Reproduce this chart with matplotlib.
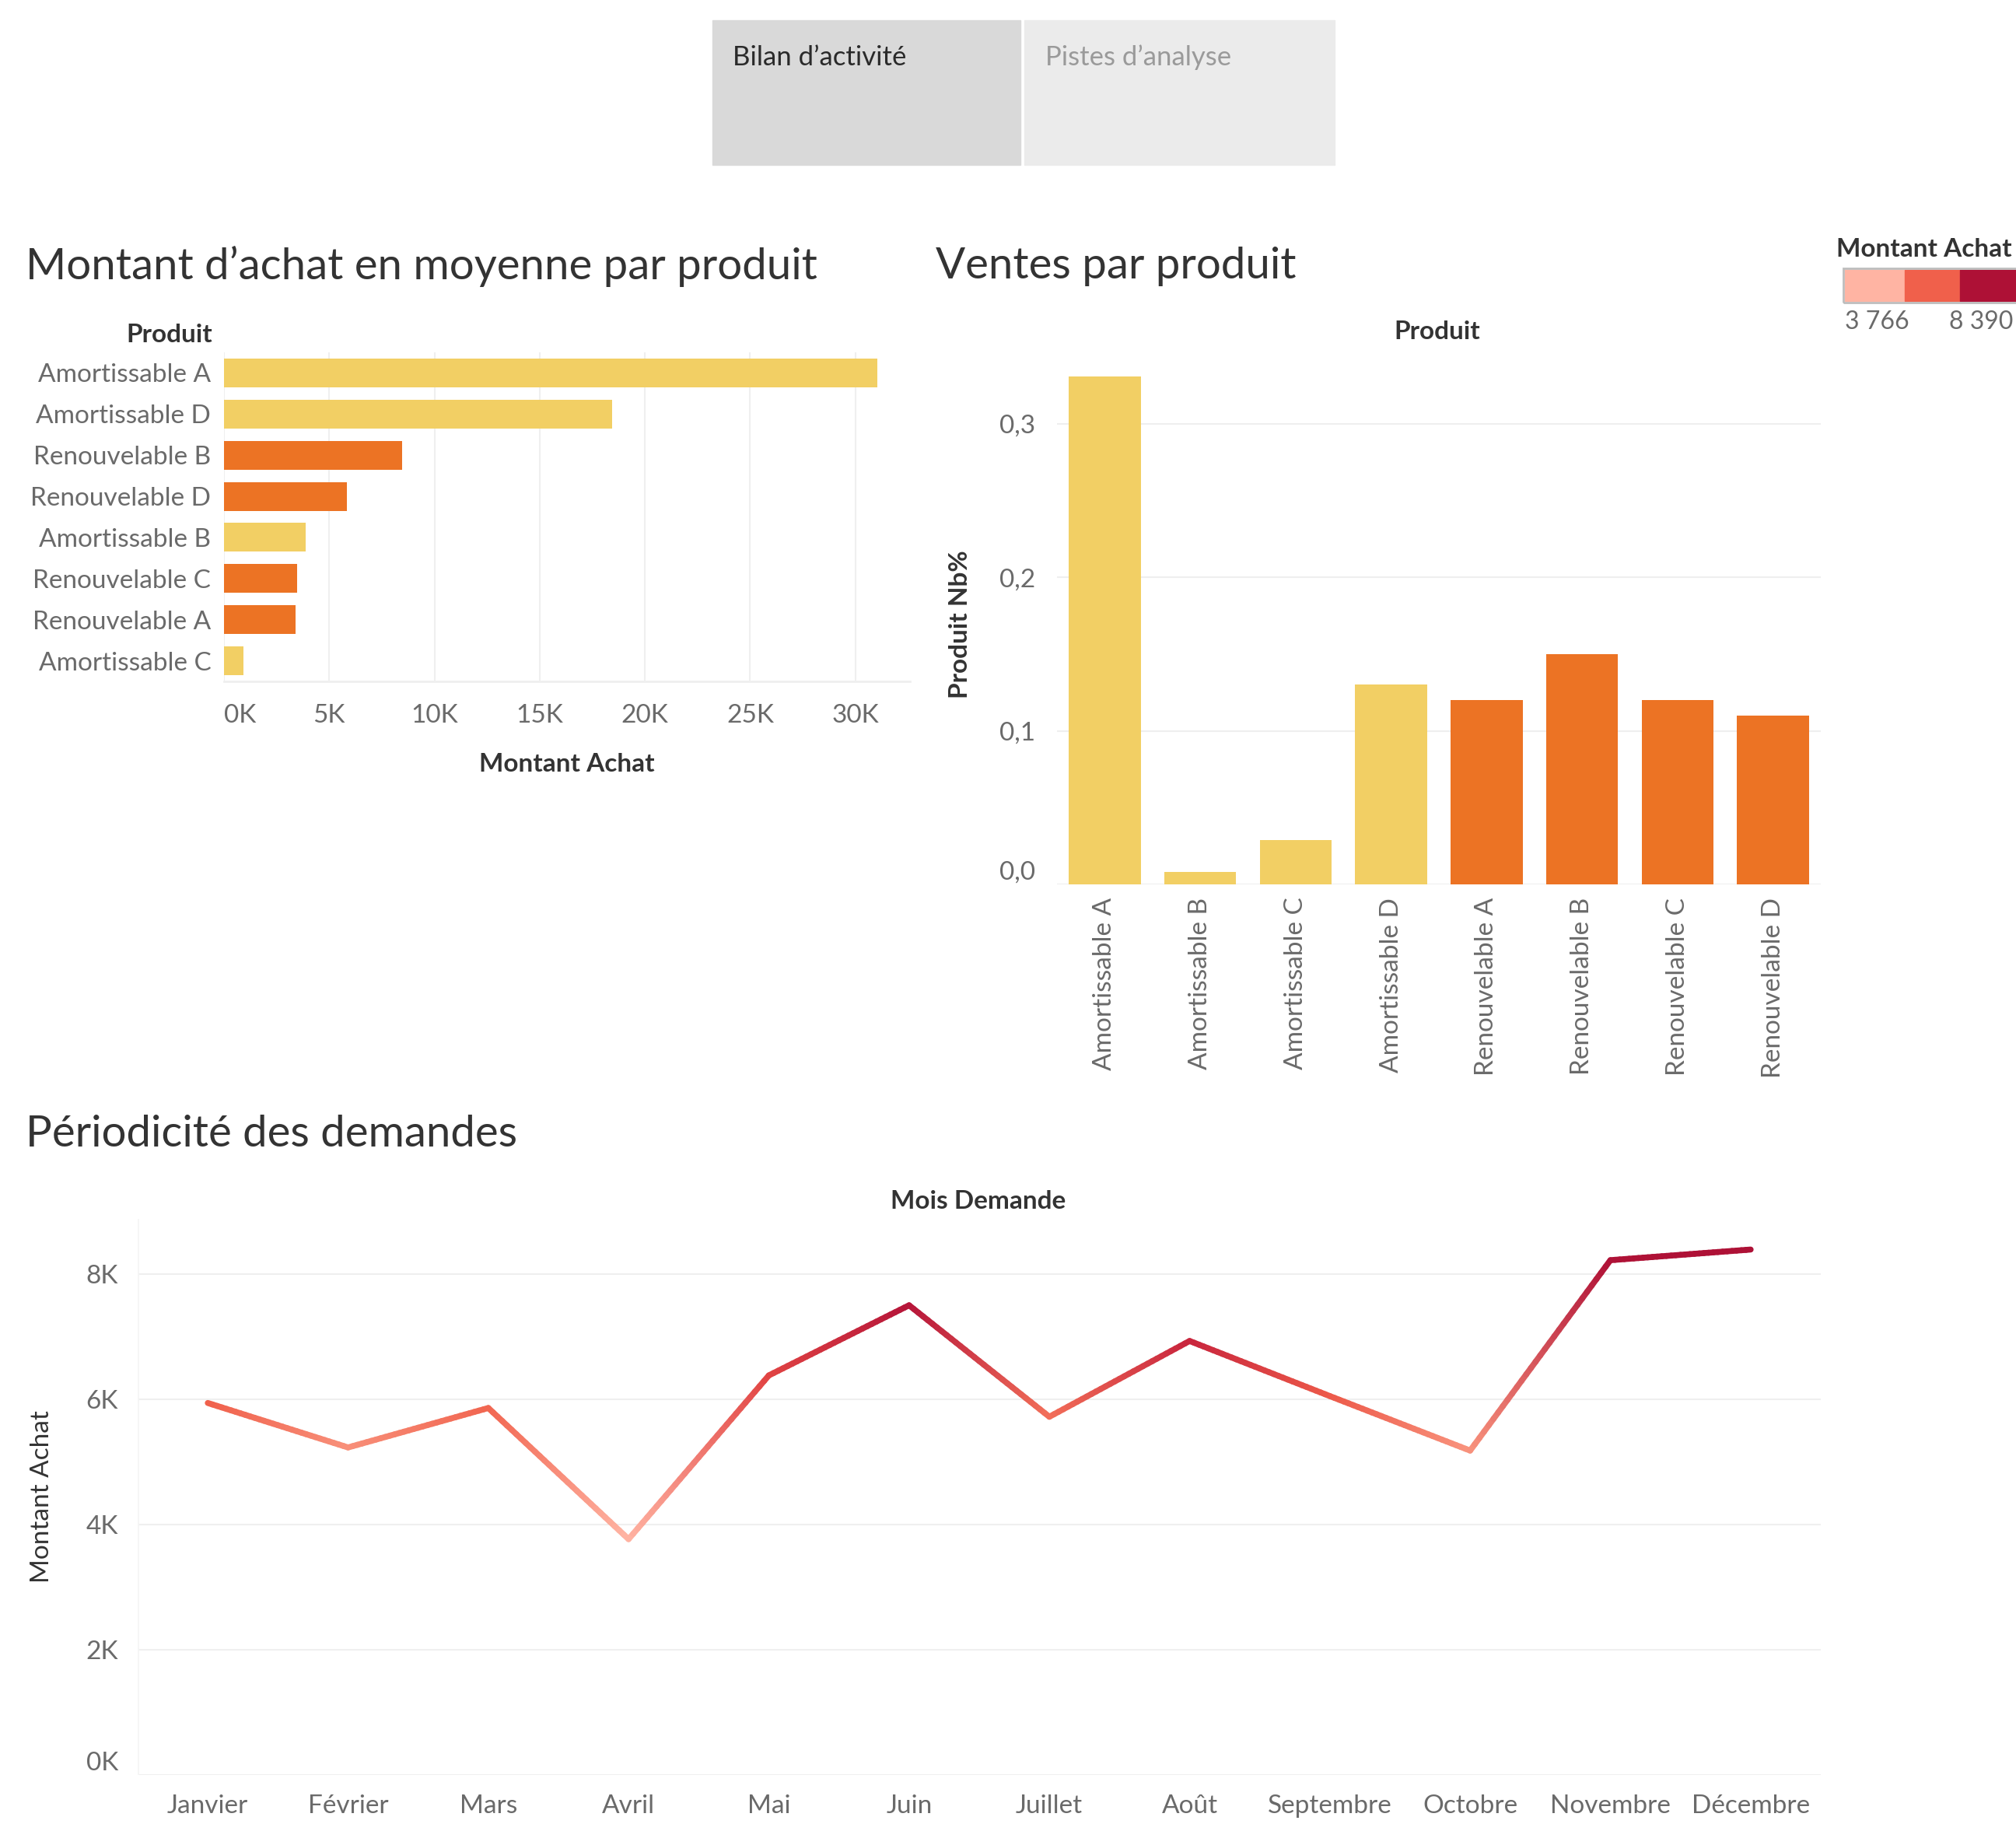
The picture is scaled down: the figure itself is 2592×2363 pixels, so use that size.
import numpy as np
import matplotlib
matplotlib.use('Agg')
import matplotlib.pyplot as plt
from matplotlib.collections import LineCollection
from matplotlib.colors import LinearSegmentedColormap, Normalize, to_rgb
from matplotlib.patches import Rectangle

plt.rcParams['font.family'] = ['Lato', 'DejaVu Sans']

# données
produits_tri = ['Amortissable A', 'Amortissable D', 'Renouvelable B', 'Renouvelable D',
                'Amortissable B', 'Renouvelable C', 'Renouvelable A', 'Amortissable C']
montant_moyen = [31050, 18450, 8450, 5830, 3870, 3490, 3390, 930]

produits = ['Amortissable A', 'Amortissable B', 'Amortissable C', 'Amortissable D',
            'Renouvelable A', 'Renouvelable B', 'Renouvelable C', 'Renouvelable D']
produit_nb = [0.331, 0.008, 0.029, 0.130, 0.120, 0.150, 0.120, 0.110]

mois = ['Janvier', 'Février', 'Mars', 'Avril', 'Mai', 'Juin', 'Juillet', 'Août',
        'Septembre', 'Octobre', 'Novembre', 'Décembre']
montant_mois = [5940, 5230, 5860, 3766, 6380, 7500, 5720, 6930, 6050, 5180, 8220, 8390]

JAUNE = '#F2CF64'
ORANGE = '#EC7324'
GRID = '#EFEFEF'
TICK = '#6A6A6A'
DARK = '#333333'
ROUGES = ['#FFB4A3', '#F0604B', '#AE1136']
# palette continue (plus fonce vite au-dessus du milieu, comme Tableau)
ROUGES_CONT = [(0, '#FFB4A3'), (0.3, '#F9957F'), (0.47, '#F0604B'),
               (0.62, '#D9343F'), (0.75, '#B8163A'), (1, '#AE1136')]
TICK_FS = 24
LAB_FS = 24

W, H = 2592, 2363
fig = plt.figure(figsize=(W / 100, H / 100), dpi=100)


def px_axes(x0, y0, x1, y1):
    return fig.add_axes([x0 / W, 1 - y1 / H, (x1 - x0) / W, (y1 - y0) / H])


def px_text(x, y, s, **kw):
    return fig.text(x / W, 1 - y / H, s, **kw)


def couleur(p):
    return JAUNE if p.startswith('Amortissable') else ORANGE


def clean(ax):
    for s in ax.spines.values():
        s.set_visible(False)
    ax.tick_params(length=0, colors=TICK, labelsize=TICK_FS)


# onglets
fig.patches.append(Rectangle((916 / W, 1 - 212 / H), 396 / W, 186 / H,
                             transform=fig.transFigure, color='#D9D9D9', zorder=0))
fig.patches.append(Rectangle((1317 / W, 1 - 212 / H), 399 / W, 186 / H,
                             transform=fig.transFigure, color='#EBEBEB', zorder=0))
px_text(942, 74, 'Bilan d’activité', fontsize=25, color='#2A2A2A', va='center')
px_text(1344, 74, 'Pistes d’analyse', fontsize=25, color='#9A9A9A', va='center')

# titres
px_text(33, 342, 'Montant d’achat en moyenne par produit', fontsize=40.6, color=DARK, va='center')
px_text(1203, 342, 'Ventes par produit', fontsize=40.6, color=DARK, va='center')
px_text(33, 1458, 'Périodicité des demandes', fontsize=40.6, color=DARK, va='center')

# --- barres horizontales
ax1 = px_axes(288, 453, 1170, 876)
y = np.arange(len(produits_tri))
ax1.barh(y, montant_moyen, height=0.7, color=[couleur(p) for p in produits_tri], zorder=2)
ax1.set_ylim(len(produits_tri) - 0.5, -0.5)
ax1.set_xlim(0, 32600)
ax1.set_xticks(np.arange(0, 30001, 5000))
ax1.set_xticklabels([f'{int(v / 1000)}K' for v in np.arange(0, 30001, 5000)])
ax1.set_yticks(y)
ax1.set_yticklabels(produits_tri)
clean(ax1)
ax1.tick_params(axis='y', pad=12)
ax1.tick_params(axis='x', pad=21)
ax1.get_xticklabels()[0].set_horizontalalignment('left')
ax1.grid(axis='x', color=GRID, lw=1.5, zorder=0)
ax1.axhline(len(produits_tri) - 0.5, color=GRID, lw=2, clip_on=False)
ax1.set_xlabel('Montant Achat', fontsize=LAB_FS, fontweight='bold', color=DARK, labelpad=24)
px_text(273, 430, 'Produit', fontsize=LAB_FS, fontweight='bold', color=DARK, ha='right', va='center')

# --- barres verticales
ax2 = px_axes(1359, 468, 2341, 1137)
x = np.arange(len(produits))
ax2.bar(x, produit_nb, width=0.755, color=[couleur(p) for p in produits], zorder=2)
ax2.set_xlim(-0.5, len(produits) - 0.5)
ax2.set_ylim(0, 0.339)
ax2.set_yticks([0, 0.1, 0.2, 0.3])
ax2.set_yticklabels(['0,0', '0,1', '0,2', '0,3'])
ax2.set_xticks(x)
ax2.set_xticklabels(produits, rotation=90)
clean(ax2)
ax2.tick_params(axis='y', pad=20)
ax2.tick_params(axis='x', pad=12)
ax2.get_yticklabels()[0].set_verticalalignment('bottom')
ax2.grid(axis='y', color=GRID, lw=1.5, zorder=0)
ax2.set_ylabel('Produit Nb%', fontsize=LAB_FS, fontweight='bold', color=DARK, labelpad=26)
px_text(1848, 427, 'Produit', fontsize=LAB_FS, fontweight='bold', color=DARK, ha='center', va='center')

# --- légende couleur
px_text(2361, 320, 'Montant Achat', fontsize=LAB_FS, fontweight='bold', color=DARK, va='center')
for i, c in enumerate(ROUGES):
    x0 = [2372, 2449, 2520][i]
    x1 = [2449, 2520, 2600][i]
    fig.patches.append(Rectangle((x0 / W, 1 - 387 / H), (x1 - x0) / W, 40 / H,
                                 transform=fig.transFigure, color=c, zorder=1))
fig.patches.append(Rectangle((2370 / W, 1 - 389 / H), 230 / W, 44 / H,
                             transform=fig.transFigure, fill=False, ec='#BDBDBD', lw=2, zorder=2))
px_text(2372, 414, f'{min(montant_mois):,}'.replace(',', ' '), fontsize=23, color=TICK, va='center')
px_text(2506, 414, f'{max(montant_mois):,}'.replace(',', ' '), fontsize=23, color=TICK, va='center')

# --- ligne par mois
ax3 = px_axes(177, 1567, 2341, 2282)
xm = np.arange(len(mois))
cmap = LinearSegmentedColormap.from_list('rouges', ROUGES_CONT)
norm = Normalize(min(montant_mois), max(montant_mois))
pt_col = [np.array(to_rgb(cmap(norm(v)))) for v in montant_mois]
# chaque segment est découpé pour mélanger les couleurs des deux extrémités (rendu seulement)
segs, cols = [], []
for i in range(len(mois) - 1):
    t = np.linspace(0, 1, 31)
    xs = xm[i] + t * (xm[i + 1] - xm[i])
    ys = montant_mois[i] + t * (montant_mois[i + 1] - montant_mois[i])
    for j in range(len(t) - 1):
        segs.append([(xs[j], ys[j]), (xs[j + 1], ys[j + 1])])
        tm = (t[j] + t[j + 1]) / 2
        cols.append((1 - tm) * pt_col[i] + tm * pt_col[i + 1])
lc = LineCollection(segs, colors=cols, linewidths=5.5, capstyle='round', zorder=3)
ax3.add_collection(lc)
ax3.set_xlim(-0.5, len(mois) - 0.5)
ax3.set_ylim(0, 8880)
ax3.set_yticks([0, 2000, 4000, 6000, 8000])
ax3.set_yticklabels(['0K', '2K', '4K', '6K', '8K'])
ax3.set_xticks(xm)
ax3.set_xticklabels(mois)
clean(ax3)
ax3.tick_params(axis='y', pad=18)
ax3.tick_params(axis='x', pad=18)
ax3.get_yticklabels()[0].set_verticalalignment('bottom')
ax3.grid(axis='y', color=GRID, lw=1.5, zorder=0)
ax3.axvline(-0.5, color='#F5F5F5', lw=2)
ax3.set_ylabel('Montant Achat', fontsize=LAB_FS, color=DARK, labelpad=30)
px_text(1258, 1544, 'Mois Demande', fontsize=LAB_FS, fontweight='bold', color=DARK, ha='center', va='center')

fig.savefig('out.png', dpi=100, facecolor='white')
